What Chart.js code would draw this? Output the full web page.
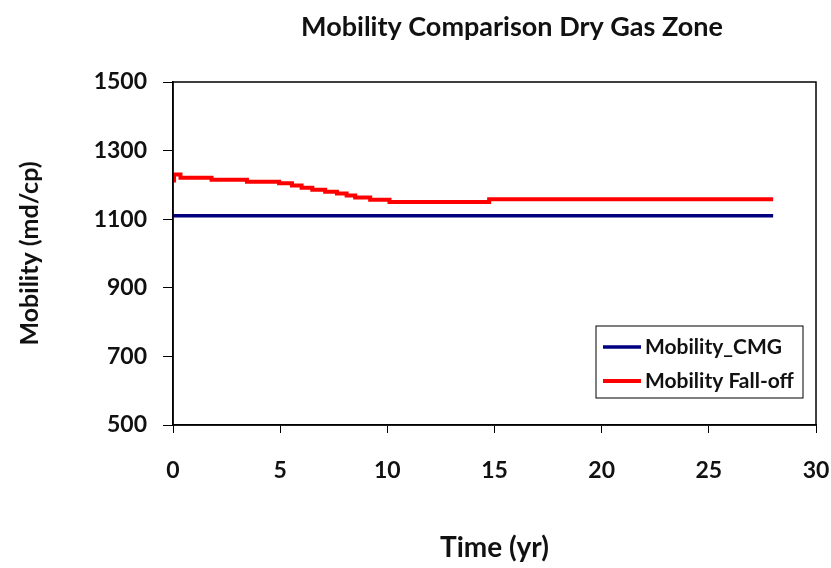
<!DOCTYPE html>
<html>
<head>
  <title>Mobility Comparison Dry Gas Zone</title>
  <script src="https://cdn.jsdelivr.net/npm/chart.js"></script>
  <style>body { margin: 0; background: #fff; }</style>
</head>
<body>
  <canvas id="chart" width="831" height="568"></canvas>
  <script>
    const chartTitle = 'Mobility Comparison Dry Gas Zone';
    const xTicks = [0, 5, 10, 15, 20, 25, 30];
    const yTicks = [500, 700, 900, 1100, 1300, 1500];

    // Mobility_CMG (flat)
    const cmgTime = [0, 28];
    const cmgMobility = [1110, 1110];

    // Mobility Fall-off (stepped decline)
    const falloffTime = [0, 0.05, 0.35, 1.8, 3.45, 4.95, 5.55, 6.0, 6.5, 7.1, 7.65, 8.1, 8.5, 9.2, 10.1, 14.75, 28];
    const falloffMobility = [1213, 1230, 1221, 1215, 1209, 1205, 1198, 1192, 1186, 1180, 1175, 1169, 1163, 1157, 1150, 1158, 1158];

    const FONT = 'Lato, "DejaVu Sans", sans-serif';

    const frame = {
      id: 'frame',
      afterDraw(chart) {
        const { ctx, chartArea: a } = chart;
        ctx.save();
        ctx.strokeStyle = '#000';
        ctx.lineWidth = 1.5;
        ctx.strokeRect(a.left, a.top, a.right - a.left, a.bottom - a.top);

        // title
        ctx.fillStyle = '#111';
        ctx.font = 'bold 27px ' + FONT;
        ctx.textAlign = 'center';
        ctx.textBaseline = 'middle';
        ctx.fillText(chartTitle, 512, 27);

        // legend box
        const bx = 596, by = 326, bw = 207, bh = 72;
        ctx.lineWidth = 1;
        ctx.fillStyle = '#fff';
        ctx.fillRect(bx, by, bw, bh);
        ctx.strokeStyle = '#000';
        ctx.strokeRect(bx, by, bw, bh);
        ctx.font = 'bold 21px ' + FONT;
        ctx.textAlign = 'left';
        chart.data.datasets.forEach((ds, i) => {
          const y = by + 21 + i * 34;
          ctx.strokeStyle = ds.borderColor;
          ctx.lineWidth = ds.borderWidth;
          ctx.beginPath();
          ctx.moveTo(bx + 7, y);
          ctx.lineTo(bx + 45, y);
          ctx.stroke();
          ctx.fillStyle = '#111';
          ctx.fillText(ds.label, bx + 49, y);
        });
        ctx.restore();
      }
    };

    new Chart(document.getElementById('chart'), {
      type: 'line',
      data: {
        datasets: [{
          label: 'Mobility_CMG',
          data: cmgTime.map((t, i) => ({ x: t, y: cmgMobility[i] })),
          borderColor: '#000080',
          borderWidth: 3.5,
          pointRadius: 0,
          fill: false
        }, {
          label: 'Mobility Fall-off',
          data: falloffTime.map((t, i) => ({ x: t, y: falloffMobility[i] })),
          borderColor: '#ff0000',
          borderWidth: 4,
          pointRadius: 0,
          stepped: 'before',
          fill: false
        }]
      },
      options: {
        responsive: false,
        animation: false,
        layout: { padding: { top: 82, right: 15, left: 0, bottom: 0 } },
        plugins: { legend: { display: false }, title: { display: false }, tooltip: { enabled: false } },
        scales: {
          x: {
            type: 'linear',
            min: xTicks[0],
            max: xTicks[xTicks.length - 1],
            afterBuildTicks: s => { s.ticks = xTicks.map(v => ({ value: v })); },
            afterFit: s => { s.height = 143; s.paddingRight = 0; s.paddingLeft = 0; },
            grid: { display: true, drawOnChartArea: false, tickLength: 8, color: '#000' },
            border: { display: true, color: '#000', width: 1.5 },
            ticks: { color: '#111', padding: 24, font: { family: FONT, size: 23, weight: 'bold' }, maxRotation: 0, callback: v => String(v) },
            title: { display: true, text: 'Time (yr)', color: '#111', font: { family: FONT, size: 28, weight: 'bold' }, padding: { top: 0, bottom: 3 } }
          },
          y: {
            min: yTicks[0],
            max: yTicks[yTicks.length - 1],
            afterBuildTicks: s => { s.ticks = yTicks.map(v => ({ value: v })); },
            afterFit: s => { s.width = 173; s.paddingTop = 0; s.paddingBottom = 0; },
            grid: { display: true, drawOnChartArea: false, tickLength: 10, color: '#000' },
            border: { display: true, color: '#000', width: 1.5 },
            ticks: { color: '#111', padding: 16, font: { family: FONT, size: 23, weight: 'bold' }, callback: v => String(v) },
            title: { display: true, text: 'Mobility (md/cp)', color: '#111', font: { family: FONT, size: 25, weight: 'bold' }, padding: { top: 15, bottom: 0 } }
          }
        }
      },
      plugins: [frame]
    });
  </script>
</body>
</html>
